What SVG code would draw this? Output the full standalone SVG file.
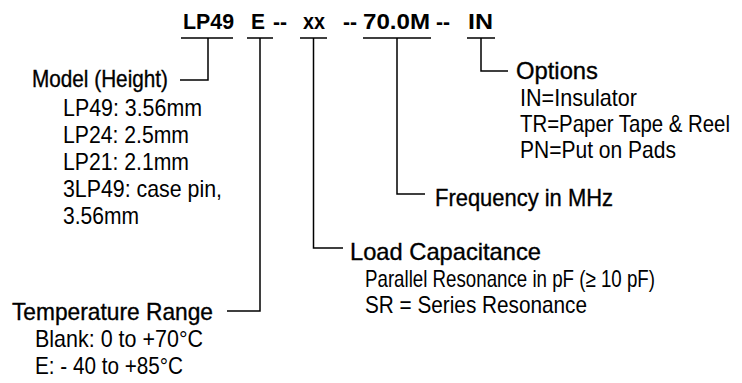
<svg xmlns="http://www.w3.org/2000/svg" width="742" height="383" viewBox="0 0 742 383">
<style>
.t{font-family:"Liberation Sans",Arial,sans-serif;font-weight:bold;font-size:22px;fill:#000}
.h{font-family:"Liberation Sans Narrow","Liberation Sans",Arial,sans-serif;font-size:24px;fill:#000;stroke:#000;stroke-width:0.35}
.i{font-family:"Liberation Sans Narrow","Liberation Sans",Arial,sans-serif;font-size:24px;fill:#000}
.c{fill:none;stroke:#000;stroke-width:1.5}
</style>
<rect width="742" height="383" fill="#fff"/>
<g id="part-number">
<text class="t" y="29" x="183" textLength="51" lengthAdjust="spacingAndGlyphs">LP49</text>
<text class="t" y="29" x="251" textLength="14" lengthAdjust="spacingAndGlyphs">E</text>
<text class="t" y="29" x="273" textLength="14" lengthAdjust="spacingAndGlyphs">--</text>
<text class="t" y="29" x="303" textLength="22" lengthAdjust="spacingAndGlyphs">xx</text>
<text class="t" y="29" x="343" textLength="14" lengthAdjust="spacingAndGlyphs">--</text>
<text class="t" y="29" x="363" textLength="67" lengthAdjust="spacingAndGlyphs">70.0M</text>
<text class="t" y="29" x="436" textLength="14" lengthAdjust="spacingAndGlyphs">--</text>
<text class="t" y="29" x="468" textLength="25" lengthAdjust="spacingAndGlyphs">IN</text>
</g>
<g id="connectors">
<path class="c" d="M181,38H233M208,38V80H180"/>
<path class="c" d="M247,38H273M260,38V311H227"/>
<path class="c" d="M300,38H327M313.5,38V248H343"/>
<path class="c" d="M363,38H431M397,38V194H425"/>
<path class="c" d="M467,38H495M481,38V71H508"/>
</g>
<g id="model">
<text class="h" x="32" y="87" textLength="136" lengthAdjust="spacingAndGlyphs">Model (Height)</text>
<text class="i" x="63" y="116" textLength="139" lengthAdjust="spacingAndGlyphs">LP49: 3.56mm</text>
<text class="i" x="63" y="143" textLength="126" lengthAdjust="spacingAndGlyphs">LP24: 2.5mm</text>
<text class="i" x="63" y="170" textLength="126" lengthAdjust="spacingAndGlyphs">LP21: 2.1mm</text>
<text class="i" x="63" y="197" textLength="159" lengthAdjust="spacingAndGlyphs">3LP49: case pin,</text>
<text class="i" x="63" y="224" textLength="76" lengthAdjust="spacingAndGlyphs">3.56mm</text>
</g>
<g id="temperature">
<text class="h" x="12" y="320" textLength="201" lengthAdjust="spacingAndGlyphs">Temperature Range</text>
<text class="i" x="35" y="347" textLength="168" lengthAdjust="spacingAndGlyphs">Blank: 0 to +70°C</text>
<text class="i" x="35" y="374" textLength="148" lengthAdjust="spacingAndGlyphs">E: - 40 to +85°C</text>
</g>
<g id="load">
<text class="h" x="350" y="260" textLength="191" lengthAdjust="spacingAndGlyphs">Load Capacitance</text>
<text class="i" x="365" y="287" textLength="290" lengthAdjust="spacingAndGlyphs">Parallel Resonance in pF (≥ 10 pF)</text>
<text class="i" x="365" y="313" textLength="222" lengthAdjust="spacingAndGlyphs">SR = Series Resonance</text>
</g>
<g id="frequency">
<text class="h" x="435" y="206" textLength="178" lengthAdjust="spacingAndGlyphs">Frequency in MHz</text>
</g>
<g id="options">
<text class="h" x="516" y="79" textLength="82" lengthAdjust="spacingAndGlyphs">Options</text>
<text class="i" x="520" y="106" textLength="117" lengthAdjust="spacingAndGlyphs">IN=Insulator</text>
<text class="i" x="520" y="132" textLength="210" lengthAdjust="spacingAndGlyphs">TR=Paper Tape &amp; Reel</text>
<text class="i" x="520" y="158" textLength="156" lengthAdjust="spacingAndGlyphs">PN=Put on Pads</text>
</g>
</svg>
